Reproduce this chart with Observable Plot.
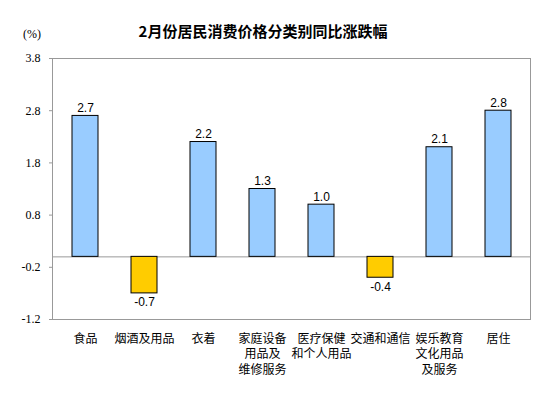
<!DOCTYPE html>
<html>
<head>
<meta charset="utf-8">
<script src="https://cdn.jsdelivr.net/npm/d3@7"></script>
<script src="https://cdn.jsdelivr.net/npm/@observablehq/plot@0.6"></script>
<style>
  html, body { margin: 0; padding: 0; background: #fff; }
  #wrap { position: relative; width: 553px; height: 398px; }
  #title { position: absolute; left: 0; width: 526px; top: 22px; text-align: center;
    font-family: "Noto Sans CJK SC", sans-serif; font-weight: bold; font-size: 15px; line-height: 18px; color: #000; }
  #unit { position: absolute; left: 23px; top: 27px; font-family: "Liberation Serif", serif; font-size: 12px; color: #000; }
</style>
</head>
<body>
<div id="wrap">
  <div id="title">2月份居民消费价格分类别同比涨跌幅</div>
  <div id="unit">(%)</div>
  <div id="chart"></div>
</div>
<script>
const categories = ["食品", "烟酒及用品", "衣着", "家庭设备用品及维修服务", "医疗保健和个人用品", "交通和通信", "娱乐教育文化用品及服务", "居住"];
const categoryLabels = ["食品", "烟酒及用品", "衣着", "家庭设备\n用品及\n维修服务", "医疗保健\n和个人用品", "交通和通信", "娱乐教育\n文化用品\n及服务", "居住"];
const values = [2.7, -0.7, 2.2, 1.3, 1.0, -0.4, 2.1, 2.8];
const yTicks = [3.8, 2.8, 1.8, 0.8, -0.2, -1.2];

const data = categories.map((c, i) => ({category: c, value: values[i]}));
const labelMap = new Map(categories.map((c, i) => [c, categoryLabels[i]]));

const chart = Plot.plot({
  width: 553,
  height: 398,
  marginTop: 58,
  marginBottom: 79,
  marginLeft: 52,
  marginRight: 23,
  style: {background: "transparent"},
  x: {type: "band", domain: categories, paddingInner: 0.56, paddingOuter: 0.28, label: null},
  y: {domain: [-1.2, 3.8], label: null},
  marks: [
    Plot.frame({stroke: "#999999", strokeWidth: 1}),
    Plot.ruleY([0], {stroke: "#999999", strokeWidth: 1}),
    Plot.barY(data, {x: "category", y1: 0, y2: "value",
      fill: d => d.value >= 0 ? "#99CCFF" : "#FFCC00", stroke: "#000", strokeWidth: 1}),
    Plot.text(data.filter(d => d.value >= 0), {x: "category", y: "value", text: d => d.value.toFixed(1),
      dy: -8, fontFamily: "Liberation Sans, Arial, sans-serif", fontSize: 12, fill: "#000"}),
    Plot.text(data.filter(d => d.value < 0), {x: "category", y: "value", text: d => d.value.toFixed(1),
      dy: 9, fontFamily: "Liberation Sans, Arial, sans-serif", fontSize: 12, fill: "#000"}),
    Plot.axisY({ticks: yTicks, tickFormat: d => d.toFixed(1), tickSize: 3, tickPadding: 9,
      fontFamily: "Liberation Serif, serif", fontSize: 12, stroke: "#999", fill: "#000", label: null}),
    Plot.axisX({tickSize: 0, tickPadding: 12, tickFormat: d => labelMap.get(d),
      fontFamily: "Noto Sans CJK SC, sans-serif", fontSize: 12, fill: "#000", label: null, lineHeight: 1.3})
  ]
});
document.getElementById("chart").appendChild(chart);
</script>
</body>
</html>
